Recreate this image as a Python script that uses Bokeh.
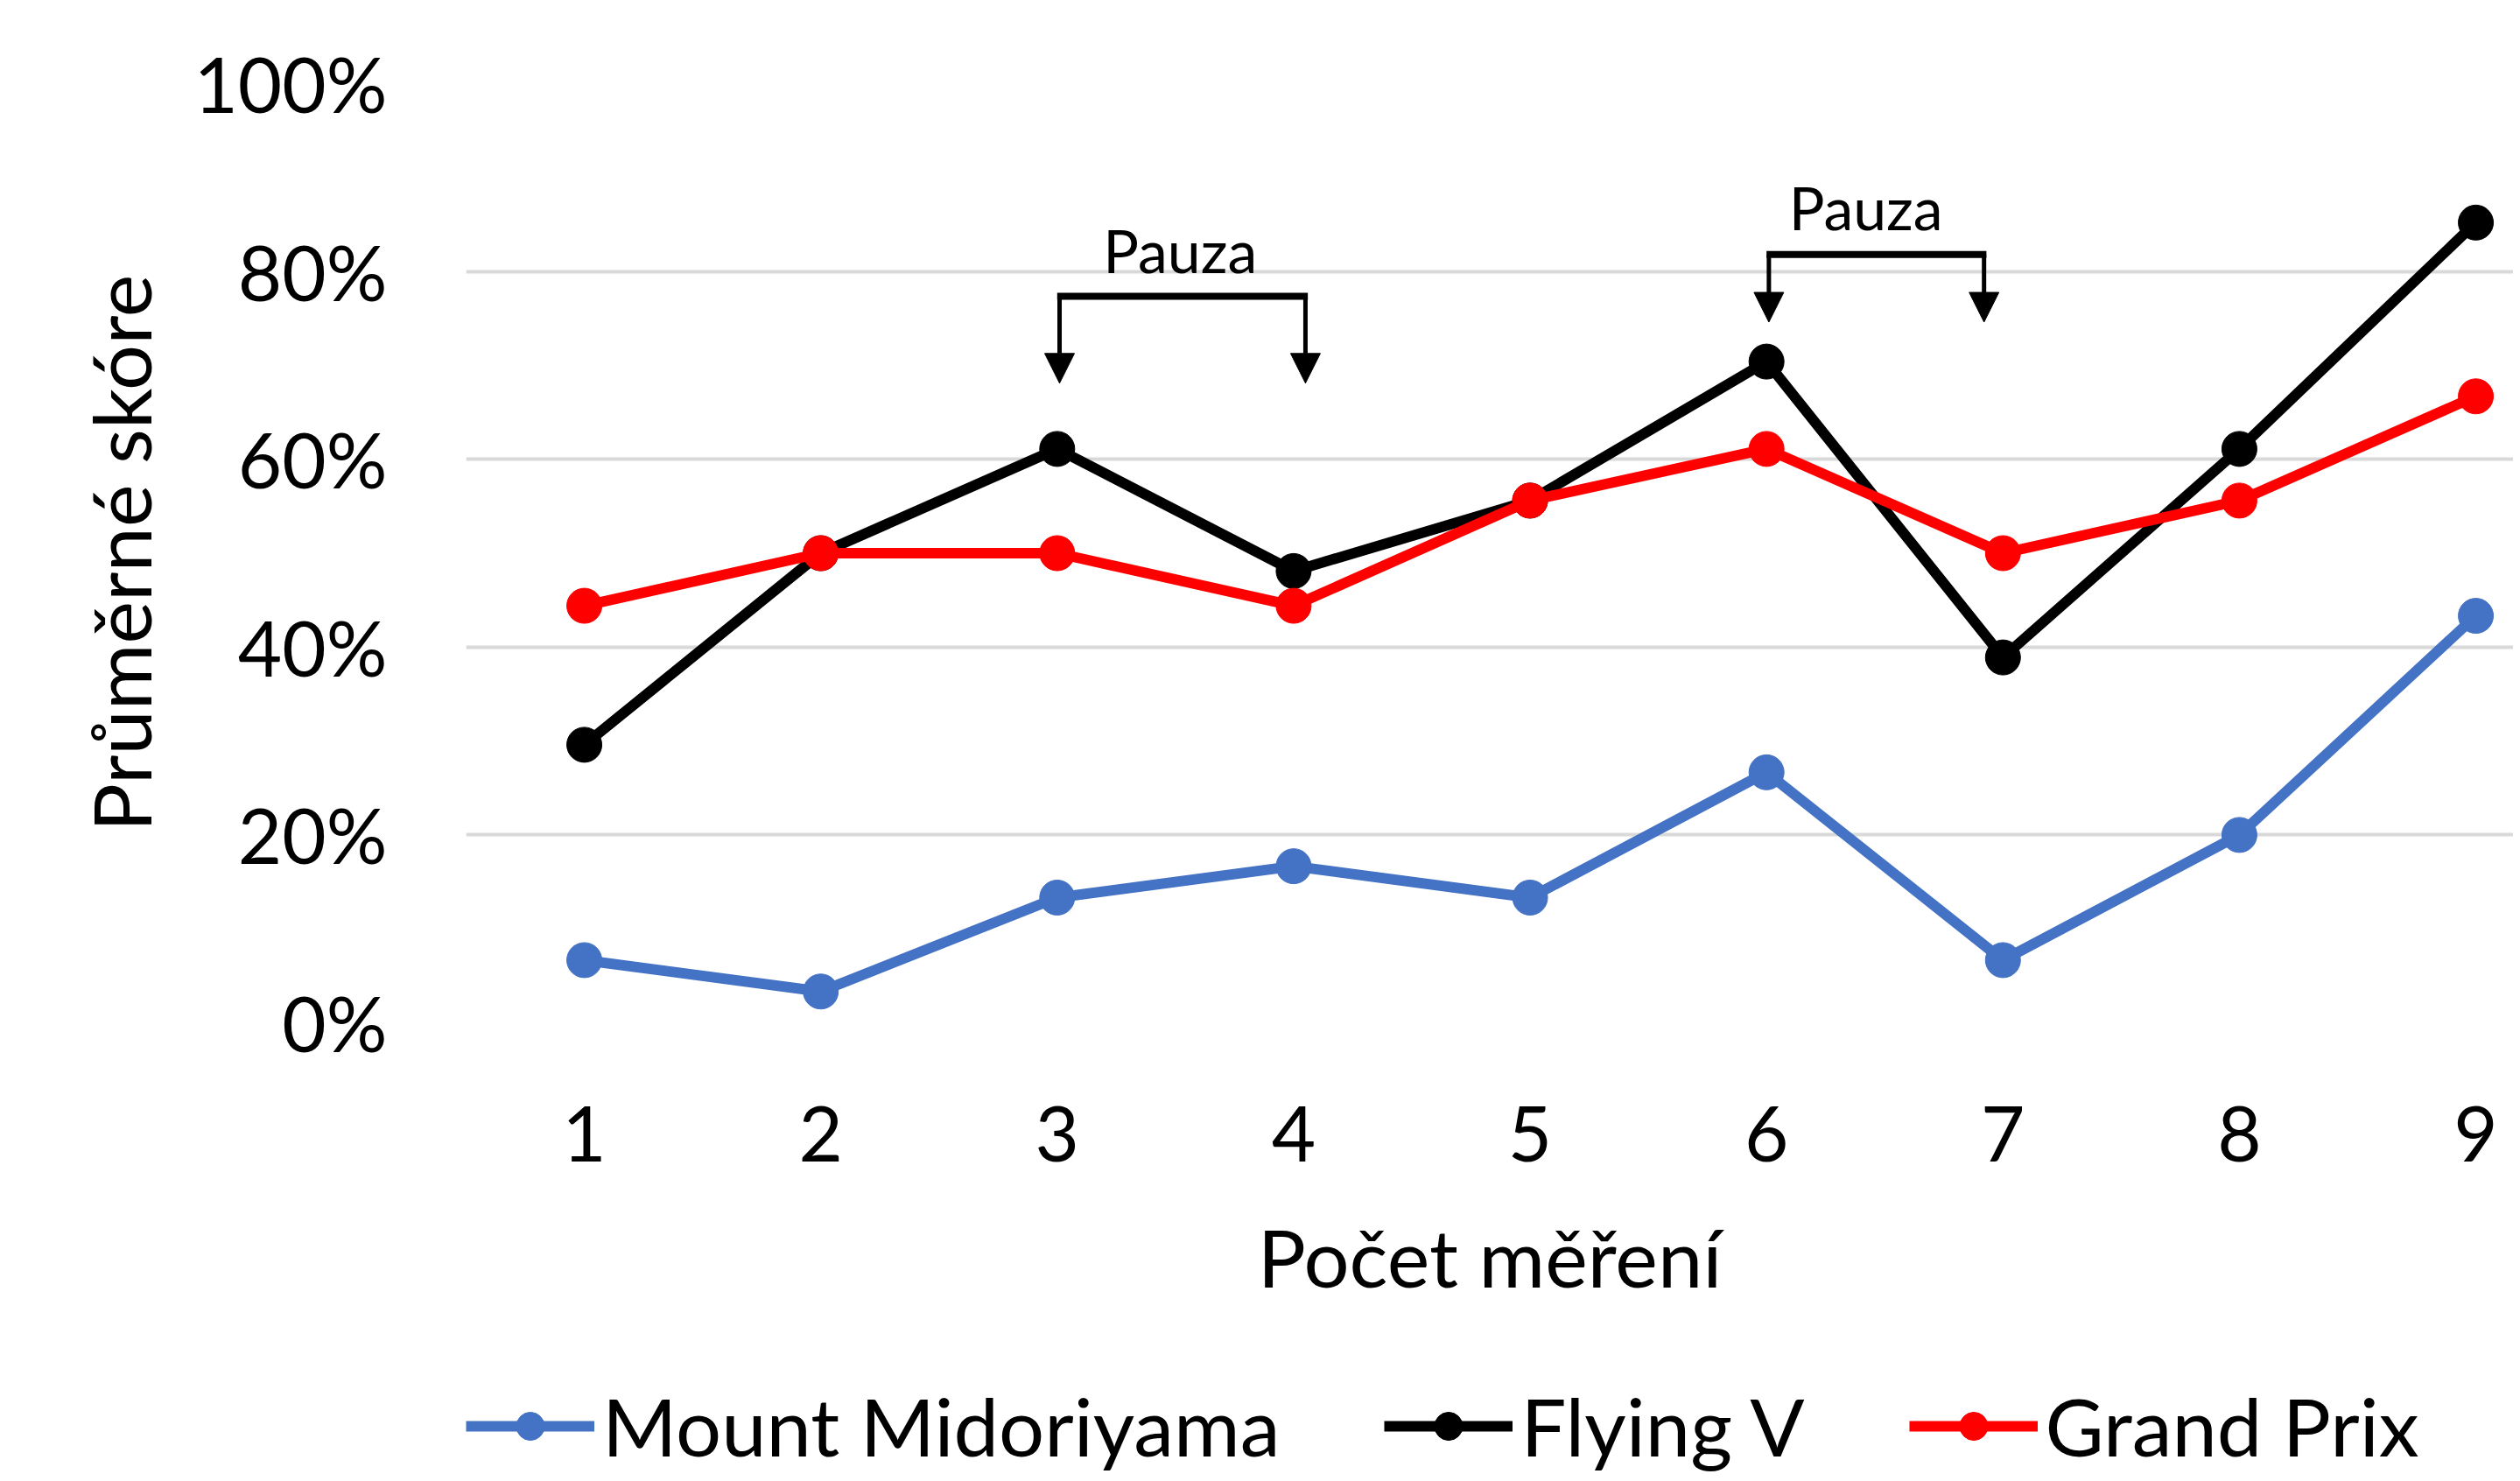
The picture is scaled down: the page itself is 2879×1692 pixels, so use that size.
from bokeh.plotting import figure
from bokeh.layouts import column
from bokeh.models import (Range1d, FixedTicker, NumeralTickFormatter, Legend, LegendItem,
                          Arrow, NormalHead, Label, ColumnDataSource)
from bokeh.embed import file_html
from bokeh.resources import INLINE

# ---- data ----
categories = [1, 2, 3, 4, 5, 6, 7, 8, 9]
mount_midoriyama = [0.0667, 0.0333, 0.1333, 0.1667, 0.1333, 0.2667, 0.0667, 0.200, 0.4333]
flying_v = [0.296, 0.500, 0.611, 0.481, 0.556, 0.704, 0.389, 0.611, 0.852]
grand_prix = [0.444, 0.500, 0.500, 0.444, 0.556, 0.611, 0.500, 0.556, 0.667]
series_names = ["Mount Midoriyama", "Flying V", "Grand Prix"]
y_ticks = [0, 0.2, 0.4, 0.6, 0.8, 1.0]
x_title = "Počet měření"
y_title = "Průměrné skóre"
pause_text = "Pauza"

# pause brackets (annotation geometry): left x, right x, bar y, arrow tip y, label x, label y
pause_left = [3.01, 6.01]
pause_right = [4.05, 6.92]
pause_bar_y = [0.7735, 0.818]
pause_tip_y = [0.681, 0.746]
pause_label_x = [3.52, 6.42]
pause_label_y = [0.823, 0.869]

FONT = "Lato"
colors = ["#4472C4", "#000000", "#FF0000"]
series = [mount_midoriyama, flying_v, grand_prix]

p = figure(width=2871, height=1530, output_backend="svg", toolbar_location=None,
           x_range=Range1d(0.5, 9.159), y_range=Range1d(0, 1.0),
           min_border_left=532, min_border_right=0, min_border_top=95, min_border_bottom=362)
p.outline_line_color = None
p.background_fill_color = "white"
p.border_fill_color = "white"

p.xgrid.grid_line_color = None
p.ygrid.grid_line_color = "#D9D9D9"
p.ygrid.grid_line_width = 4

p.xaxis.ticker = FixedTicker(ticks=categories)
p.yaxis.ticker = FixedTicker(ticks=y_ticks)
p.yaxis.formatter = NumeralTickFormatter(format="0%")
for ax in (p.xaxis[0], p.yaxis[0]):
    ax.axis_line_color = None
    ax.major_tick_line_color = None
    ax.minor_tick_line_color = None
    ax.major_label_text_font = FONT
    ax.major_label_text_font_size = "87px"
    ax.major_label_text_color = "#000000"
    ax.axis_label_text_font = FONT
    ax.axis_label_text_font_size = "92px"
    ax.axis_label_text_font_style = "normal"
    ax.axis_label_text_color = "#000000"
p.xaxis.axis_label = x_title
p.yaxis.axis_label = y_title
p.xaxis.major_label_standoff = 89
p.xaxis.axis_label_standoff = 50
p.yaxis.major_label_standoff = 84
p.yaxis.axis_label_standoff = 25

for vals, col in zip(series, colors):
    src = ColumnDataSource(dict(x=categories, y=vals))
    p.line("x", "y", source=src, line_color=col, line_width=12)
    p.scatter("x", "y", source=src, size=40, fill_color=col, line_color=col)

for lx, rx, by, ty, tx, tyl in zip(pause_left, pause_right, pause_bar_y, pause_tip_y,
                                   pause_label_x, pause_label_y):
    p.add_layout(Arrow(end=None, x_start=lx - 0.01, y_start=by, x_end=rx + 0.01, y_end=by,
                       line_width=8, line_color="black"))
    for xx in (lx, rx):
        p.add_layout(Arrow(end=NormalHead(size=34, fill_color="black", line_color="black"),
                           x_start=xx, y_start=by, x_end=xx, y_end=ty,
                           line_width=5, line_color="black"))
    p.add_layout(Label(x=tx, y=tyl, text=pause_text, text_align="center", text_baseline="middle",
                       text_font=FONT, text_font_size="68px", text_color="#000000"))

# legend strip below the chart (same series, legend only; data lie outside its view)
p2 = figure(width=2871, height=154, output_backend="svg", toolbar_location=None,
            x_axis_type=None, y_axis_type=None,
            x_range=Range1d(100, 101), y_range=Range1d(100, 101),
            min_border_left=0, min_border_right=0, min_border_top=0, min_border_bottom=0)
p2.outline_line_color = None
p2.background_fill_color = "white"
p2.border_fill_color = "white"
items = []
for name, vals, col in zip(series_names, series, colors):
    src = ColumnDataSource(dict(x=categories, y=vals))
    ln = p2.line("x", "y", source=src, line_color=col, line_width=12)
    mk = p2.scatter("x", "y", source=src, size=40, fill_color=col, line_color=col)
    items.append(LegendItem(label=name, renderers=[ln, mk]))

legend = Legend(items=items, orientation="horizontal", location=(0, 0),
                label_text_font=FONT, label_text_font_size="92px", label_text_color="#000000",
                glyph_width=147, glyph_height=80, label_standoff=9, spacing=119,
                padding=0, margin=0, border_line_color=None, background_fill_alpha=0)
p2.add_layout(legend, "center")

layout = column(p, p2, spacing=0)
open("out.html", "w").write(file_html(layout, INLINE))
